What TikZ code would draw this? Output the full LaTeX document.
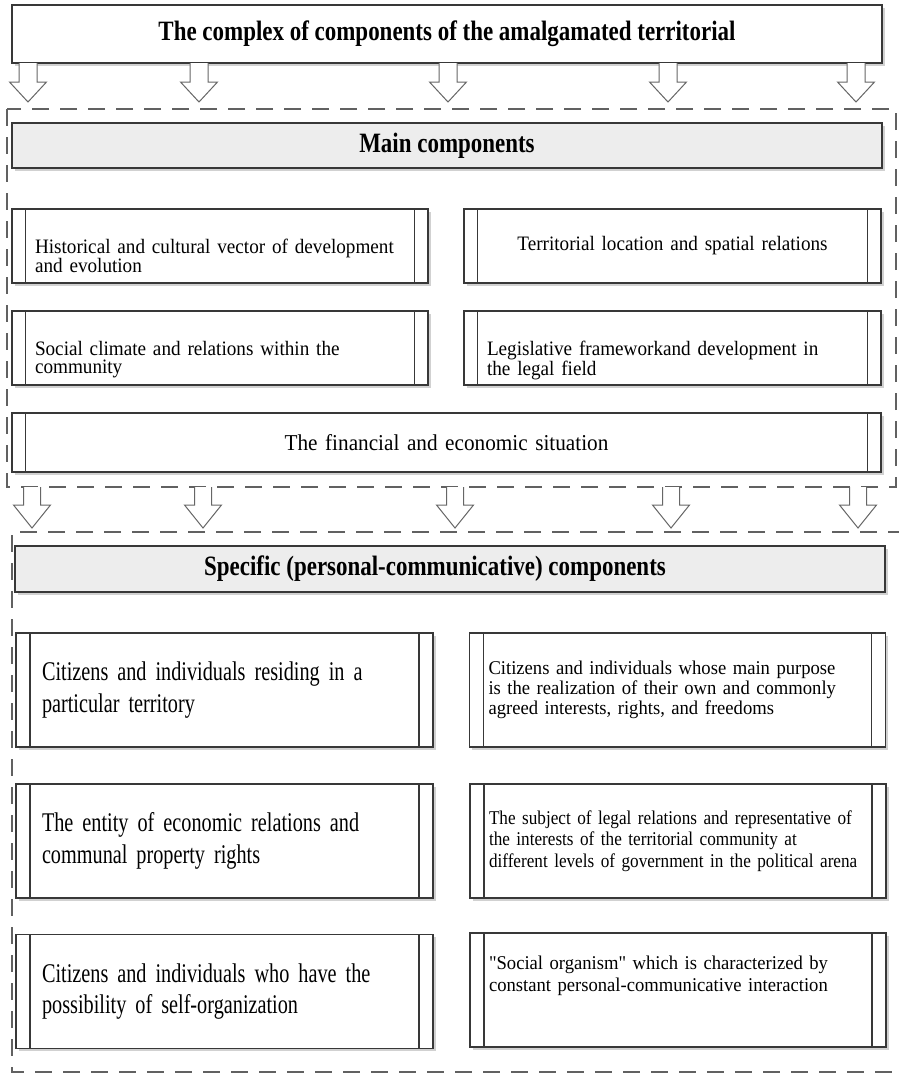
\documentclass[tikz,border=0pt]{standalone}
\usepackage{fontspec}
\setmainfont{Liberation Serif}
\newfontfamily\hdrfont{Liberation Serif}[FakeStretch=0.82]
\newfontfamily\compfont{Liberation Serif}[FakeStretch=0.935]
\newfontfamily\persfont{Liberation Serif}[FakeStretch=0.75]
\newfontfamily\notefont{Liberation Serif}[FakeStretch=0.955]
\newfontfamily\tightfont{Liberation Serif}[FakeStretch=0.88]
\usetikzlibrary{shadows}

\tikzset{
  box/.style={draw=black!78, line width=1.1pt, fill=white, inner sep=0pt,
    drop shadow={shadow xshift=2.5pt, shadow yshift=-2.5pt, opacity=0.18, fill=black}},
  procbox/.style={box, path picture={
    \draw[line width=1.1pt, draw=black!78]
      ([xshift=#1]path picture bounding box.north west) -- ([xshift=#1]path picture bounding box.south west)
      ([xshift=-#1]path picture bounding box.north east) -- ([xshift=-#1]path picture bounding box.south east);}},
  procbox/.default=13.5pt,
  hdrbox/.style={box, fill=black!7, font=\hdrfont\bfseries\fontsize{28}{30}\selectfont},
  compbox/.style={procbox, inner xsep=23pt, minimum height=74pt, font=\compfont\fontsize{20.5}{18.5}\selectfont},
  persbox/.style={procbox=14pt, inner xsep=26pt, text width=365pt, minimum height=114pt, align=left,
    font=\persfont\fontsize{27}{31.5}\selectfont},
  notebox/.style={procbox=14pt, inner xsep=19pt, text width=378pt, minimum height=114pt, align=left,
    font=\notefont\fontsize{19.5}{20.3}\selectfont},
  dashline/.style={draw=black!62, line width=1.8pt, dash pattern=on 17pt off 11pt},
  blockarr/.style={draw=black!60, line width=1pt, fill=white, line join=miter}
}

\begin{document}
\begin{tikzpicture}[x=1pt,y=-1pt]
\useasboundingbox (0,0) rectangle (898,1076);

\draw[dashline] (7,109) rectangle (896,487);
\draw[dashline] (905,532) -- (12,532) -- (12,1072) -- (905,1072);

\node[box, minimum width=870pt, minimum height=58pt, font=\hdrfont\bfseries\fontsize{28}{30}\selectfont] (title) at (447,34) {The complex of components of the amalgamated territorial};

\foreach \ax in {28,199,448,668,856}
  \draw[blockarr] (\ax-9,63) -- (\ax-9,82) -- (\ax-18.5,82) -- (\ax,102) -- (\ax+18.5,82) -- (\ax+9,82) -- (\ax+9,63);

\node[hdrbox, minimum width=870pt, minimum height=45pt] (mainhdr) at (447,145.5) {Main components};

\node[compbox, text width=370pt, text depth=0pt, align=left] (hist) at (220,246) {Historical and cultural vector of development\\and evolution};
\node[compbox=14pt, text width=371pt, align=center] (terr) at (672.5,246) {Territorial location and spatial relations};
\node[compbox, text width=370pt, text depth=0pt, align=left] (climate) at (220,348) {Social climate and relations within the\\community};
\node[compbox=14pt, text width=371pt, text depth=0pt, align=left] (legis) at (672.5,348) {Legislative frameworkand development in\\the legal field};
\node[compbox, text width=823pt, minimum height=59pt, align=center, font=\compfont\fontsize{22.7}{25}\selectfont] (finance) at (446.5,442.5) {The financial and economic situation};

\foreach \ax in {32,203,455,671,858}
  \draw[blockarr] (\ax-8.5,487) -- (\ax-8.5,505) -- (\ax-18.5,505) -- (\ax,528) -- (\ax+18.5,505) -- (\ax+8.5,505) -- (\ax+8.5,487);

\node[hdrbox, minimum width=870pt, minimum height=46pt] (spechdr) at (450,569) {Specific (personal-communicative) components\kern30pt};

\node[persbox] (resid) at (224.5,690) {Citizens and individuals residing in a\\particular territory};
\node[notebox] (purpose) at (677.5,690) {Citizens and individuals whose main purpose\\is the realization of their own and commonly\\agreed interests, rights, and freedoms};
\node[persbox] (entity) at (224.5,841) {The entity of economic relations and\\communal property rights};
\node[notebox, font=\tightfont\fontsize{19.5}{21.7}\selectfont] (subject) at (678,841) {The subject of legal relations and representative of\\the interests of the territorial community at\\different levels of government in the political arena};
\node[persbox] (selforg) at (224.5,991.5) {Citizens and individuals who have the\\possibility of self-organization};
\node[notebox, font=\notefont\fontsize{19.5}{21.5}\selectfont] (organism) at (678,990) {"Social organism" which is characterized by\\constant personal-communicative interaction\\[11.5pt]\mbox{}};
\end{tikzpicture}
\end{document}
